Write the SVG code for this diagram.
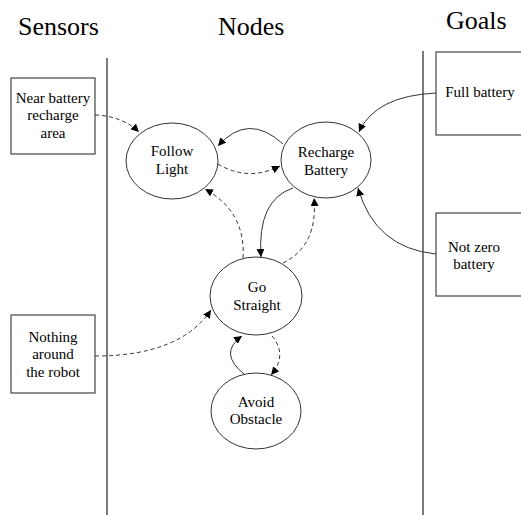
<svg xmlns="http://www.w3.org/2000/svg" width="521" height="515" viewBox="0 0 521 515" font-family="'Liberation Serif', 'Times New Roman', serif">
  <style>
    text { font-family: "Liberation Serif", "Times New Roman", "DejaVu Serif", serif; fill: #000; }
    .hdr { font-size: 26px; }
    .lbl { font-size: 15px; text-anchor: middle; }
    .box { fill: #fff; stroke: #444; stroke-width: 1.2; }
    .node { fill: #fff; stroke: #333; stroke-width: 1; }
    .lane { stroke: #333; stroke-width: 1.3; }
    .solid { fill: none; stroke: #333; stroke-width: 1; marker-end: url(#arrow); }
    .dash { fill: none; stroke: #333; stroke-width: 1; stroke-dasharray: 4 3; marker-end: url(#arrow); }
  </style>
  <defs>
    <marker id="arrow" viewBox="0 0 10 10" refX="10" refY="5" markerWidth="8" markerHeight="8" markerUnits="userSpaceOnUse" orient="auto">
      <path d="M0,0 L10,5 L0,10 Z" fill="#000"/>
    </marker>
  </defs>

  <rect width="521" height="515" fill="#fff"/>

  <!-- column headings -->
  <g id="headings">
    <text class="hdr" x="18" y="35" font-family="'Liberation Serif', serif">Sensors</text>
    <text class="hdr" x="218" y="35" font-family="'Liberation Serif', serif">Nodes</text>
    <text class="hdr" x="446" y="29" font-family="'Liberation Serif', serif">Goals</text>
  </g>

  <!-- lane dividers -->
  <g id="lanes">
    <line class="lane" x1="107" y1="58" x2="107" y2="515"/>
    <line class="lane" x1="423" y1="51" x2="423" y2="515"/>
  </g>

  <!-- sensors -->
  <g id="sensor-near-battery" font-family="'Liberation Serif', serif">
    <rect class="box" x="11" y="78" width="84" height="76"/>
    <text class="lbl" x="53" y="103">Near battery</text>
    <text class="lbl" x="53" y="120">recharge</text>
    <text class="lbl" x="53" y="138">area</text>
  </g>
  <g id="sensor-nothing-around" font-family="'Liberation Serif', serif">
    <rect class="box" x="11" y="315" width="84" height="78"/>
    <text class="lbl" x="53" y="342">Nothing</text>
    <text class="lbl" x="53" y="359">around</text>
    <text class="lbl" x="53" y="377">the robot</text>
  </g>

  <!-- goals -->
  <g id="goal-full-battery" font-family="'Liberation Serif', serif">
    <rect class="box" x="436" y="52" width="90" height="83"/>
    <text class="lbl" x="480" y="97">Full battery</text>
  </g>
  <g id="goal-not-zero-battery" font-family="'Liberation Serif', serif">
    <rect class="box" x="436" y="213" width="90" height="83"/>
    <text class="lbl" x="474" y="252">Not zero</text>
    <text class="lbl" x="474" y="269">battery</text>
  </g>

  <!-- behaviour nodes -->
  <g id="node-follow-light" font-family="'Liberation Serif', serif">
    <ellipse class="node" cx="172" cy="161" rx="46" ry="38"/>
    <text class="lbl" x="172" y="156">Follow</text>
    <text class="lbl" x="172" y="174">Light</text>
  </g>
  <g id="node-recharge-battery" font-family="'Liberation Serif', serif">
    <ellipse class="node" cx="326" cy="160" rx="45" ry="38"/>
    <text class="lbl" x="326" y="157">Recharge</text>
    <text class="lbl" x="326" y="175">Battery</text>
  </g>
  <g id="node-go-straight" font-family="'Liberation Serif', serif">
    <ellipse class="node" cx="256" cy="296" rx="46" ry="39"/>
    <text class="lbl" x="257" y="292">Go</text>
    <text class="lbl" x="257" y="310">Straight</text>
  </g>
  <g id="node-avoid-obstacle" font-family="'Liberation Serif', serif">
    <ellipse class="node" cx="256" cy="411" rx="45" ry="38"/>
    <text class="lbl" x="256" y="407">Avoid</text>
    <text class="lbl" x="256" y="424">Obstacle</text>
  </g>

  <!-- connectors -->
  <g id="connectors">
    <path class="dash" d="M95,115 Q122,116 139,132"/>
    <path class="solid" d="M283,144 Q248,112 218,146"/>
    <path class="dash" d="M218,164 Q248,182 280,166"/>
    <path class="solid" d="M436,93 Q375,96 359,132"/>
    <path class="solid" d="M436,254 Q375,248 358,188"/>
    <path class="solid" d="M293,188 Q257,200 261,257"/>
    <path class="dash" d="M283,263 Q318,246 314,198"/>
    <path class="dash" d="M243,258 Q246,212 205,189"/>
    <path class="dash" d="M95,356 Q180,356 211,310"/>
    <path class="solid" d="M244,374 Q218,353 242,336"/>
    <path class="dash" d="M272,336 Q288,355 271,375"/>
  </g>
</svg>
